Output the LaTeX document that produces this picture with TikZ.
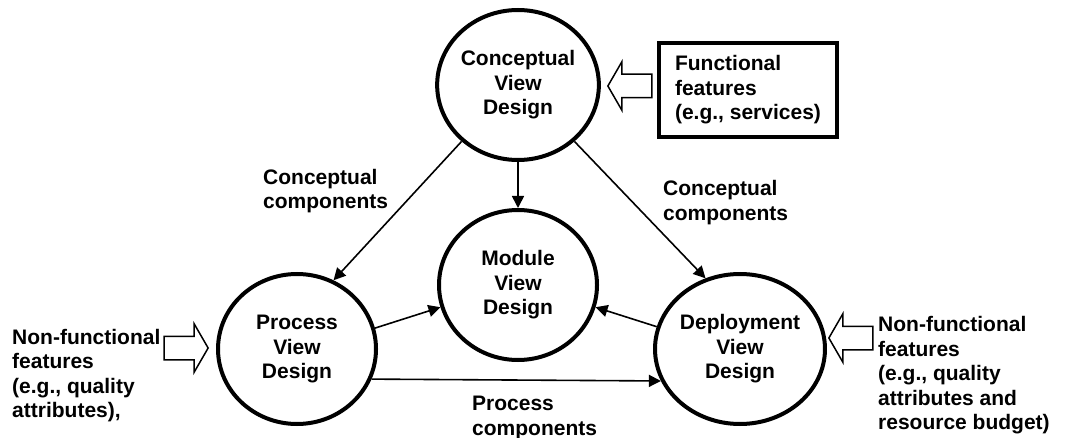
\documentclass[tikz,border=0pt]{standalone}
\usepackage{fontspec}
\setmainfont{Liberation Sans}
\usetikzlibrary{positioning, arrows.meta, shapes.geometric, shapes.arrows}

\begin{document}
\begin{tikzpicture}[x=1pt, y=-1pt]
    \tikzstyle{every node}=[font=\fontsize{21}{24.5}\selectfont\bfseries]
    \tikzstyle{view} = [ellipse, draw=black, line width=4pt, minimum width=158pt, minimum height=150pt, align=center, inner sep=0pt]
    \tikzstyle{txt} = [align=left, inner sep=0pt, anchor=west]
    \tikzstyle{feature} = [single arrow, draw=black, line width=1.5pt, inner xsep=0pt, inner ysep=11pt, single arrow head extend=12.5pt, single arrow tip angle=120, minimum height=44pt, anchor=tip]
    \tikzstyle{edge} = [-{Triangle[length=12pt, width=12pt]}, line width=1.6pt]

    \useasboundingbox (0,0) rectangle (1067,438);

    % the four views
    \node[view](con) at (518,85) {Conceptual\\View\\Design};
    \node[view](mod) at (518,285) {Module\\View\\Design};
    \node[view](proc) at (297,349) {Process\\View\\Design};
    \node[view](dep) at (740,349) {Deployment\\View\\Design};

    % inputs
    \node[draw=black, line width=4pt, minimum width=178pt, minimum height=94pt, align=left](func) at (748,90) {Functional\\features\\(e.g., services)};
    \node[txt](nfl) at (12,375.5) {Non-functional\\features\\(e.g., quality\\attributes),};
    \node[txt](nfr) at (878,375.5) {Non-functional\\features\\(e.g., quality\\attributes and\\resource budget)};

    \node[feature, shape border rotate=180](fa) at (607,86) {};
    \node[feature](fl) at (209,348) {};
    \node[feature, shape border rotate=180](fr) at (828,338) {};

    % flows between views
    \draw[edge] (con.225) -- (proc.62);
    \draw[edge] (con.-45) -- (dep.116);
    \draw[edge] (con.south) -- (mod.north);
    \draw[edge] (proc.15) -- (mod.196);
    \draw[edge] (dep.165) -- (mod.-16);
    \draw[edge] (proc.-22) -- (dep.202);

    \node[txt](lcl) at (263,191) {Conceptual\\components};
    \node[txt](lcr) at (663,202.5) {Conceptual\\components};
    \node[txt](lpc) at (472,418) {Process\\components};

\end{tikzpicture}
\end{document}
